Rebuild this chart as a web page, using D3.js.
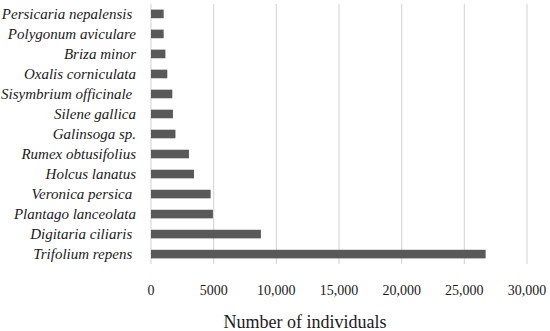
<!DOCTYPE html>
<html>
<head>
<meta charset="utf-8">
<script src="https://cdn.jsdelivr.net/npm/d3@7"></script>
<style>
  body { margin: 0; background: #fff; }
  svg { display: block; }
  text { font-family: "Liberation Serif", "DejaVu Serif", serif; }
</style>
</head>
<body>
<svg id="chart" width="550" height="331"></svg>
<script>
// species, top to bottom (trailing spaces kept as in the original labels)
const species = [
  "Persicaria nepalensis ",
  "Polygonum aviculare",
  "Briza minor",
  "Oxalis corniculata",
  "Sisymbrium officinale ",
  "Silene gallica",
  "Galinsoga sp.",
  "Rumex obtusifolius",
  "Holcus lanatus",
  "Veronica persica ",
  "Plantago lanceolata",
  "Digitaria ciliaris ",
  "Trifolium repens "
]
const individuals = [1010, 1010, 1150, 1300, 1700, 1750, 1950, 3030, 3430, 4760, 4940, 8770, 26700]
const tickValues = [0, 5000, 10000, 15000, 20000, 25000, 30000]
const tickLabels = ["0", "5000", "10,000", "15,000", "20,000", "25,000", "30,000"]

const svg = d3.select("#chart")
const plotLeft = 151, plotRight = 527, plotTop = 4, plotBottom = 264

const x = d3.scaleLinear().domain([0, 30000]).range([plotLeft, plotRight])
const y = d3.scaleBand().domain(species).range([plotTop, plotBottom]).paddingInner(0.57).paddingOuter(0.28)

// gridlines
svg.append("g")
  .selectAll("line")
  .data(tickValues)
  .join("line")
  .attr("x1", (d) => x(d))
  .attr("x2", (d) => x(d))
  .attr("y1", plotTop)
  .attr("y2", plotBottom)
  .attr("stroke", "#d9d9d9")
  .attr("stroke-width", 1.2)

// bars
svg.append("g")
  .selectAll("rect")
  .data(species)
  .join("rect")
  .attr("x", x(0))
  .attr("y", (d) => y(d))
  .attr("width", (d, i) => x(individuals[i]) - x(0))
  .attr("height", y.bandwidth())
  .attr("fill", "#595959")

// category labels
svg.append("g")
  .selectAll("text")
  .data(species)
  .join("text")
  .attr("x", 136)
  .attr("y", (d) => y(d) + y.bandwidth() / 2)
  .attr("dy", "0.35em")
  .attr("text-anchor", "end")
  .attr("font-size", 15)
  .attr("font-style", "italic")
  .attr("fill", "#1a1a1a")
  .style("white-space", "pre")
  .text((d) => d)

// tick labels
svg.append("g")
  .selectAll("text")
  .data(tickValues)
  .join("text")
  .attr("x", (d) => x(d))
  .attr("y", 290)
  .attr("dy", "0.35em")
  .attr("text-anchor", "middle")
  .attr("font-size", 14)
  .attr("fill", "#1a1a1a")
  .text((d, i) => tickLabels[i])

// axis title
svg.append("text")
  .attr("x", 305)
  .attr("y", 322)
  .attr("dy", "0.35em")
  .attr("text-anchor", "middle")
  .attr("font-size", 18)
  .attr("fill", "#1a1a1a")
  .text("Number of individuals")
</script>
</body>
</html>
